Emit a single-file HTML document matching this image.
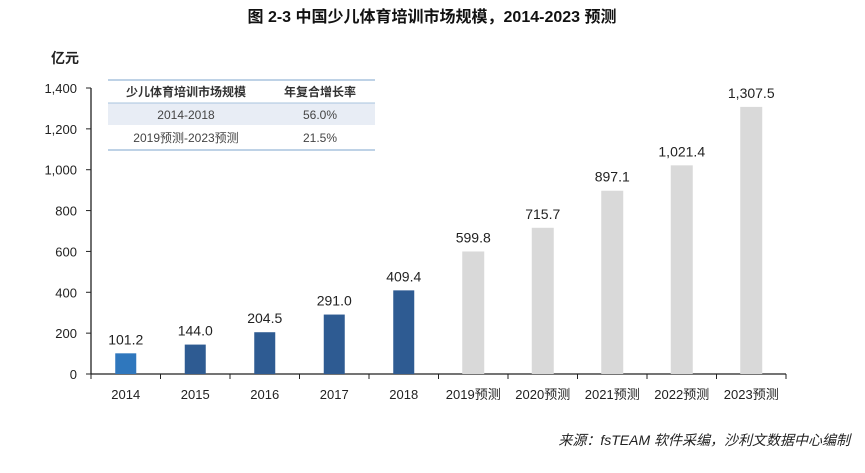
<!DOCTYPE html>
<html><head><meta charset="utf-8"><style>
body{margin:0;background:#fff;width:865px;height:468px;overflow:hidden;font-family:"Liberation Sans","Noto Sans CJK SC",sans-serif;}
</style></head><body>
<svg width="865" height="468" font-family="Liberation Sans, Noto Sans CJK SC, sans-serif">
<text x="432" y="22" text-anchor="middle" font-size="16" font-weight="bold" fill="#111">图  2-3  中国少儿体育培训市场规模，2014-2023 预测</text>
<text x="51" y="63" font-size="14" font-weight="bold" fill="#222">亿元</text>
<g id="axes"></g>
<g id="bars"></g>
<g>
<line x1="108" y1="80" x2="375" y2="80" stroke="#a9c4de" stroke-width="1.5"/>
<rect x="108" y="103" width="267" height="22" fill="#e8edf5"/>
<line x1="108" y1="103" x2="375" y2="103" stroke="#a9c4de"/>
<line x1="108" y1="150" x2="375" y2="150" stroke="#a9c4de" stroke-width="1.5"/>
<text x="186" y="96" text-anchor="middle" font-size="12" font-weight="bold" fill="#333">少儿体育培训市场规模</text>
<text x="320" y="96" text-anchor="middle" font-size="12" font-weight="bold" fill="#333">年复合增长率</text>
<text x="186" y="119" text-anchor="middle" font-size="12" fill="#444">2014-2018</text>
<text x="320" y="119" text-anchor="middle" font-size="12" fill="#444">56.0%</text>
<text x="186" y="142" text-anchor="middle" font-size="12" fill="#444">2019预测-2023预测</text>
<text x="320" y="142" text-anchor="middle" font-size="12" fill="#444">21.5%</text>
</g>
<text x="850" y="445" text-anchor="end" font-size="14" font-style="italic" fill="#222">来源：fsTEAM 软件采编，沙利文数据中心编制</text>
</svg>
<script>
const categories=["2014","2015","2016","2017","2018","2019预测","2020预测","2021预测","2022预测","2023预测"];
const values=[101.2,144.0,204.5,291.0,409.4,599.8,715.7,897.1,1021.4,1307.5];
const valueLabels=["101.2","144.0","204.5","291.0","409.4","599.8","715.7","897.1","1,021.4","1,307.5"];
const yTicks=[0,200,400,600,800,1000,1200,1400];
const yTickLabels=["0","200","400","600","800","1,000","1,200","1,400"];
const NS="http://www.w3.org/2000/svg";
const x0=91,step=69.5,y0=374,yMax=1400,ph=286;
const y=v=>y0-v/yMax*ph;
const xc=i=>x0+step*(i+0.5);
function mk(t,a,p){const e=document.createElementNS(NS,t);for(const k in a)e.setAttribute(k,a[k]);p.appendChild(e);return e;}
const ax=document.getElementById('axes'),bg=document.getElementById('bars');
const yl=mk('line',{x1:x0,y1:y(1400),x2:x0,y2:y0,stroke:'#222','stroke-width':1.3},ax);


const xl=mk('line',{x1:x0,y1:y0,x2:x0+step*categories.length,y2:y0,stroke:'#222','stroke-width':1.3},ax);


yTicks.forEach((t,i)=>{
 mk('line',{x1:x0-5,y1:y(t),x2:x0,y2:y(t),stroke:'#222'},ax);
 const tx=mk('text',{x:x0-14,y:y(t)+5,'text-anchor':'end','font-size':13,fill:'#222'},ax);
 tx.textContent=yTickLabels[i];
 
 
});
for(let i=0;i<=categories.length;i++)mk('line',{x1:x0+step*i,y1:y0,x2:x0+step*i,y2:y0+5,stroke:'#222'},ax);
categories.forEach((c,i)=>{
 const tx=mk('text',{x:xc(i),y:399,'text-anchor':'middle','font-size':13,fill:'#222'},ax);
 tx.textContent=c;
 
 
 const col=i===0?'#2f77bd':(i<5?'#2e5b92':'#d9d9d9');
 const bw=i<5?21:22;
 const r=mk('rect',{x:xc(i)-bw/2,y:y(values[i]),width:bw,height:y0-y(values[i]),fill:col},bg);
 
 
 const lb=mk('text',{x:xc(i),y:y(values[i])-9,'text-anchor':'middle','font-size':14,fill:'#222'},bg);
 lb.textContent=valueLabels[i];
 
 
});
</script>
</body></html>
